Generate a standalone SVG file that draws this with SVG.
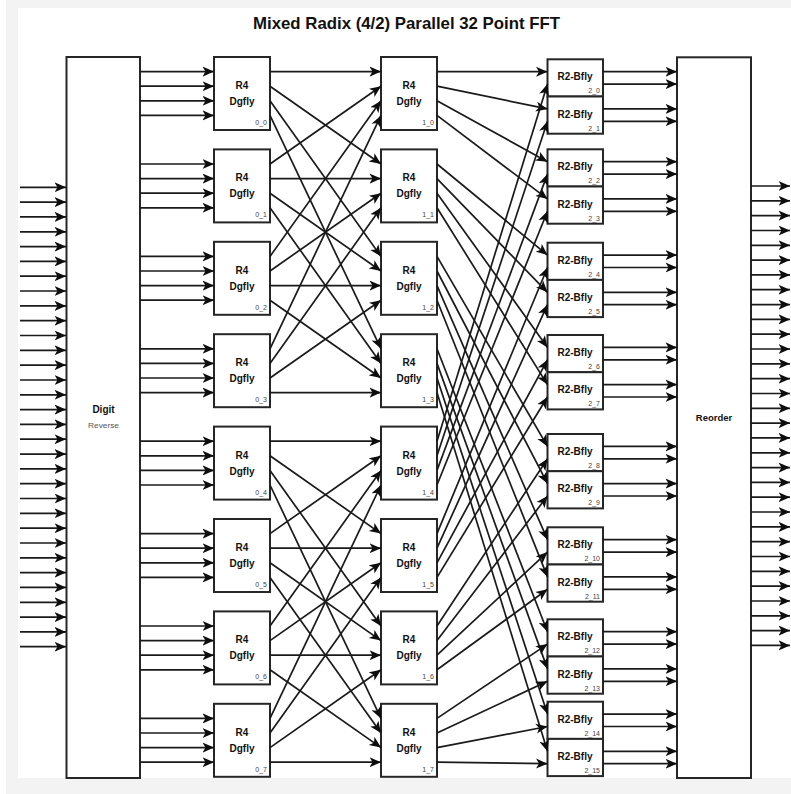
<svg xmlns="http://www.w3.org/2000/svg" width="791" height="794" viewBox="0 0 791 794">
<style>
.bg{fill:#ffffff}
.frame{fill:#f3f3f3}
.box{fill:#ffffff;stroke:#262626;stroke-width:2}
.c line{stroke:#1a1a1a;stroke-width:1.7;fill:none;marker-end:url(#arr)}
.t{font-family:"Liberation Sans",Arial,sans-serif;fill:#111;font-weight:bold;text-anchor:middle}
.r4{font-size:10px}
.r2{font-size:10px}
.lb{font-family:"Liberation Sans",Arial,sans-serif;fill:#444;font-size:7px;text-anchor:end}
.title{font-family:"Liberation Sans",Arial,sans-serif;font-weight:bold;font-size:16.5px;fill:#111;text-anchor:middle}
</style>
<defs>
<marker id="arr" markerUnits="userSpaceOnUse" markerWidth="12" markerHeight="11" viewBox="0 0 12 11" refX="11.5" refY="5.5" orient="auto">
<path d="M0,0.5 L11.5,5.5 L0,10.5 L3,5.5 z" fill="#0d0d0d"/>
</marker>
</defs>
<rect class="bg" x="0" y="0" width="791" height="794"/>
<rect class="frame" x="6" y="0" width="785" height="794"/>
<rect class="bg" x="18" y="8" width="773" height="770"/>
<text class="title" x="406.5" y="29" textLength="307" lengthAdjust="spacingAndGlyphs">Mixed Radix (4/2) Parallel 32 Point FFT</text>

<g id="digit_reverse">
<rect class="box" x="66.5" y="57" width="73.5" height="721"/>
<text class="t" x="103.5" y="413" font-size="10">Digit</text>
<text x="103.5" y="428" font-family="Liberation Sans,Arial,sans-serif" font-size="6.5" fill="#555" text-anchor="middle" textLength="31" lengthAdjust="spacingAndGlyphs">Reverse</text>
</g>

<g id="r4_0_0"><rect class="box" x="214" y="57" width="56" height="73"/><text class="t r4" x="242" y="89">R4</text><text class="t r4" x="242" y="105">Dgfly</text><text class="lb" x="267" y="125">0_0</text></g>
<g id="r4_0_1"><rect class="box" x="214" y="149.4" width="56" height="73"/><text class="t r4" x="242" y="181.4">R4</text><text class="t r4" x="242" y="197.4">Dgfly</text><text class="lb" x="267" y="217.4">0_1</text></g>
<g id="r4_0_2"><rect class="box" x="214" y="241.8" width="56" height="73"/><text class="t r4" x="242" y="273.8">R4</text><text class="t r4" x="242" y="289.8">Dgfly</text><text class="lb" x="267" y="309.8">0_2</text></g>
<g id="r4_0_3"><rect class="box" x="214" y="334.2" width="56" height="73"/><text class="t r4" x="242" y="366.2">R4</text><text class="t r4" x="242" y="382.2">Dgfly</text><text class="lb" x="267" y="402.2">0_3</text></g>
<g id="r4_0_4"><rect class="box" x="214" y="426.6" width="56" height="73"/><text class="t r4" x="242" y="458.6">R4</text><text class="t r4" x="242" y="474.6">Dgfly</text><text class="lb" x="267" y="494.6">0_4</text></g>
<g id="r4_0_5"><rect class="box" x="214" y="519" width="56" height="73"/><text class="t r4" x="242" y="551">R4</text><text class="t r4" x="242" y="567">Dgfly</text><text class="lb" x="267" y="587">0_5</text></g>
<g id="r4_0_6"><rect class="box" x="214" y="611.4" width="56" height="73"/><text class="t r4" x="242" y="643.4">R4</text><text class="t r4" x="242" y="659.4">Dgfly</text><text class="lb" x="267" y="679.4">0_6</text></g>
<g id="r4_0_7"><rect class="box" x="214" y="703.8" width="56" height="73"/><text class="t r4" x="242" y="735.8">R4</text><text class="t r4" x="242" y="751.8">Dgfly</text><text class="lb" x="267" y="771.8">0_7</text></g>

<g id="r4_1_0"><rect class="box" x="381" y="57" width="56" height="73"/><text class="t r4" x="409" y="89">R4</text><text class="t r4" x="409" y="105">Dgfly</text><text class="lb" x="434" y="125">1_0</text></g>
<g id="r4_1_1"><rect class="box" x="381" y="149.4" width="56" height="73"/><text class="t r4" x="409" y="181.4">R4</text><text class="t r4" x="409" y="197.4">Dgfly</text><text class="lb" x="434" y="217.4">1_1</text></g>
<g id="r4_1_2"><rect class="box" x="381" y="241.8" width="56" height="73"/><text class="t r4" x="409" y="273.8">R4</text><text class="t r4" x="409" y="289.8">Dgfly</text><text class="lb" x="434" y="309.8">1_2</text></g>
<g id="r4_1_3"><rect class="box" x="381" y="334.2" width="56" height="73"/><text class="t r4" x="409" y="366.2">R4</text><text class="t r4" x="409" y="382.2">Dgfly</text><text class="lb" x="434" y="402.2">1_3</text></g>
<g id="r4_1_4"><rect class="box" x="381" y="426.6" width="56" height="73"/><text class="t r4" x="409" y="458.6">R4</text><text class="t r4" x="409" y="474.6">Dgfly</text><text class="lb" x="434" y="494.6">1_4</text></g>
<g id="r4_1_5"><rect class="box" x="381" y="519" width="56" height="73"/><text class="t r4" x="409" y="551">R4</text><text class="t r4" x="409" y="567">Dgfly</text><text class="lb" x="434" y="587">1_5</text></g>
<g id="r4_1_6"><rect class="box" x="381" y="611.4" width="56" height="73"/><text class="t r4" x="409" y="643.4">R4</text><text class="t r4" x="409" y="659.4">Dgfly</text><text class="lb" x="434" y="679.4">1_6</text></g>
<g id="r4_1_7"><rect class="box" x="381" y="703.8" width="56" height="73"/><text class="t r4" x="409" y="735.8">R4</text><text class="t r4" x="409" y="751.8">Dgfly</text><text class="lb" x="434" y="771.8">1_7</text></g>

<g id="r2_2_0"><rect class="box" x="547.5" y="59.3" width="55.5" height="37.2"/><text class="t r2" x="575" y="80.3">R2-Bfly</text><text class="lb" x="600" y="93.3">2_0</text></g>
<g id="r2_2_1"><rect class="box" x="547.5" y="96.5" width="55.5" height="37.2"/><text class="t r2" x="575" y="117.5">R2-Bfly</text><text class="lb" x="600" y="130.5">2_1</text></g>
<g id="r2_2_2"><rect class="box" x="547.5" y="149.3" width="55.5" height="37.2"/><text class="t r2" x="575" y="170.3">R2-Bfly</text><text class="lb" x="600" y="183.3">2_2</text></g>
<g id="r2_2_3"><rect class="box" x="547.5" y="186.5" width="55.5" height="37.2"/><text class="t r2" x="575" y="207.5">R2-Bfly</text><text class="lb" x="600" y="220.5">2_3</text></g>
<g id="r2_2_4"><rect class="box" x="547.5" y="242.7" width="55.5" height="37.2"/><text class="t r2" x="575" y="263.7">R2-Bfly</text><text class="lb" x="600" y="276.7">2_4</text></g>
<g id="r2_2_5"><rect class="box" x="547.5" y="279.9" width="55.5" height="37.2"/><text class="t r2" x="575" y="300.9">R2-Bfly</text><text class="lb" x="600" y="313.9">2_5</text></g>
<g id="r2_2_6"><rect class="box" x="547.5" y="335" width="55.5" height="37.2"/><text class="t r2" x="575" y="356">R2-Bfly</text><text class="lb" x="600" y="369">2_6</text></g>
<g id="r2_2_7"><rect class="box" x="547.5" y="372.2" width="55.5" height="37.2"/><text class="t r2" x="575" y="393.2">R2-Bfly</text><text class="lb" x="600" y="406.2">2_7</text></g>
<g id="r2_2_8"><rect class="box" x="547.5" y="434" width="55.5" height="37.2"/><text class="t r2" x="575" y="455">R2-Bfly</text><text class="lb" x="600" y="468">2_8</text></g>
<g id="r2_2_9"><rect class="box" x="547.5" y="471.2" width="55.5" height="37.2"/><text class="t r2" x="575" y="492.2">R2-Bfly</text><text class="lb" x="600" y="505.2">2_9</text></g>
<g id="r2_2_10"><rect class="box" x="547.5" y="527.3" width="55.5" height="37.2"/><text class="t r2" x="575" y="548.3">R2-Bfly</text><text class="lb" x="600" y="561.3">2_10</text></g>
<g id="r2_2_11"><rect class="box" x="547.5" y="564.5" width="55.5" height="37.2"/><text class="t r2" x="575" y="585.5">R2-Bfly</text><text class="lb" x="600" y="598.5">2_11</text></g>
<g id="r2_2_12"><rect class="box" x="547.5" y="619.3" width="55.5" height="37.2"/><text class="t r2" x="575" y="640.3">R2-Bfly</text><text class="lb" x="600" y="653.3">2_12</text></g>
<g id="r2_2_13"><rect class="box" x="547.5" y="656.5" width="55.5" height="37.2"/><text class="t r2" x="575" y="677.5">R2-Bfly</text><text class="lb" x="600" y="690.5">2_13</text></g>
<g id="r2_2_14"><rect class="box" x="547.5" y="701.7" width="55.5" height="37.2"/><text class="t r2" x="575" y="722.7">R2-Bfly</text><text class="lb" x="600" y="735.7">2_14</text></g>
<g id="r2_2_15"><rect class="box" x="547.5" y="738.9" width="55.5" height="37.2"/><text class="t r2" x="575" y="759.9">R2-Bfly</text><text class="lb" x="600" y="772.9">2_15</text></g>

<g id="reorder">
<rect class="box" x="677" y="57.3" width="74" height="720.7"/>
<text x="714" y="421" font-family="Liberation Sans,Arial,sans-serif" font-size="9.5" font-weight="bold" fill="#111" text-anchor="middle">Reorder</text>
</g>

<g id="connectors" class="c">
<g id="inputs">
<line x1="20" y1="187.3" x2="66" y2="187.3"/><line x1="20" y1="202.1" x2="66" y2="202.1"/><line x1="20" y1="216.9" x2="66" y2="216.9"/><line x1="20" y1="231.8" x2="66" y2="231.8"/>
<line x1="20" y1="246.6" x2="66" y2="246.6"/><line x1="20" y1="261.4" x2="66" y2="261.4"/><line x1="20" y1="276.2" x2="66" y2="276.2"/><line x1="20" y1="291" x2="66" y2="291"/>
<line x1="20" y1="305.9" x2="66" y2="305.9"/><line x1="20" y1="320.7" x2="66" y2="320.7"/><line x1="20" y1="335.5" x2="66" y2="335.5"/><line x1="20" y1="350.3" x2="66" y2="350.3"/>
<line x1="20" y1="365.1" x2="66" y2="365.1"/><line x1="20" y1="380" x2="66" y2="380"/><line x1="20" y1="394.8" x2="66" y2="394.8"/><line x1="20" y1="409.6" x2="66" y2="409.6"/>
<line x1="20" y1="424.4" x2="66" y2="424.4"/><line x1="20" y1="439.2" x2="66" y2="439.2"/><line x1="20" y1="454.1" x2="66" y2="454.1"/><line x1="20" y1="468.9" x2="66" y2="468.9"/>
<line x1="20" y1="483.7" x2="66" y2="483.7"/><line x1="20" y1="498.5" x2="66" y2="498.5"/><line x1="20" y1="513.3" x2="66" y2="513.3"/><line x1="20" y1="528.2" x2="66" y2="528.2"/>
<line x1="20" y1="543" x2="66" y2="543"/><line x1="20" y1="557.8" x2="66" y2="557.8"/><line x1="20" y1="572.6" x2="66" y2="572.6"/><line x1="20" y1="587.4" x2="66" y2="587.4"/>
<line x1="20" y1="602.3" x2="66" y2="602.3"/><line x1="20" y1="617.1" x2="66" y2="617.1"/><line x1="20" y1="631.9" x2="66" y2="631.9"/><line x1="20" y1="646.7" x2="66" y2="646.7"/>
</g>
<g id="dr_to_s0">
<line x1="140" y1="71.6" x2="214" y2="71.6"/><line x1="140" y1="86.2" x2="214" y2="86.2"/><line x1="140" y1="100.8" x2="214" y2="100.8"/><line x1="140" y1="115.4" x2="214" y2="115.4"/>
<line x1="140" y1="164" x2="214" y2="164"/><line x1="140" y1="178.6" x2="214" y2="178.6"/><line x1="140" y1="193.2" x2="214" y2="193.2"/><line x1="140" y1="207.8" x2="214" y2="207.8"/>
<line x1="140" y1="256.4" x2="214" y2="256.4"/><line x1="140" y1="271" x2="214" y2="271"/><line x1="140" y1="285.6" x2="214" y2="285.6"/><line x1="140" y1="300.2" x2="214" y2="300.2"/>
<line x1="140" y1="348.8" x2="214" y2="348.8"/><line x1="140" y1="363.4" x2="214" y2="363.4"/><line x1="140" y1="378" x2="214" y2="378"/><line x1="140" y1="392.6" x2="214" y2="392.6"/>
<line x1="140" y1="441.2" x2="214" y2="441.2"/><line x1="140" y1="455.8" x2="214" y2="455.8"/><line x1="140" y1="470.4" x2="214" y2="470.4"/><line x1="140" y1="485" x2="214" y2="485"/>
<line x1="140" y1="533.6" x2="214" y2="533.6"/><line x1="140" y1="548.2" x2="214" y2="548.2"/><line x1="140" y1="562.8" x2="214" y2="562.8"/><line x1="140" y1="577.4" x2="214" y2="577.4"/>
<line x1="140" y1="626" x2="214" y2="626"/><line x1="140" y1="640.6" x2="214" y2="640.6"/><line x1="140" y1="655.2" x2="214" y2="655.2"/><line x1="140" y1="669.8" x2="214" y2="669.8"/>
<line x1="140" y1="718.4" x2="214" y2="718.4"/><line x1="140" y1="733" x2="214" y2="733"/><line x1="140" y1="747.6" x2="214" y2="747.6"/><line x1="140" y1="762.2" x2="214" y2="762.2"/>
</g>
<g id="s0_to_s1">
<line x1="270" y1="71.6" x2="381" y2="71.6"/><line x1="270" y1="86.2" x2="381" y2="164"/><line x1="270" y1="100.8" x2="381" y2="256.4"/><line x1="270" y1="115.4" x2="381" y2="348.8"/>
<line x1="270" y1="164" x2="381" y2="86.2"/><line x1="270" y1="178.6" x2="381" y2="178.6"/><line x1="270" y1="193.2" x2="381" y2="271"/><line x1="270" y1="207.8" x2="381" y2="363.4"/>
<line x1="270" y1="256.4" x2="381" y2="100.8"/><line x1="270" y1="271" x2="381" y2="193.2"/><line x1="270" y1="285.6" x2="381" y2="285.6"/><line x1="270" y1="300.2" x2="381" y2="378"/>
<line x1="270" y1="348.8" x2="381" y2="115.4"/><line x1="270" y1="363.4" x2="381" y2="207.8"/><line x1="270" y1="378" x2="381" y2="300.2"/><line x1="270" y1="392.6" x2="381" y2="392.6"/>
<line x1="270" y1="441.2" x2="381" y2="441.2"/><line x1="270" y1="455.8" x2="381" y2="533.6"/><line x1="270" y1="470.4" x2="381" y2="626"/><line x1="270" y1="485" x2="381" y2="718.4"/>
<line x1="270" y1="533.6" x2="381" y2="455.8"/><line x1="270" y1="548.2" x2="381" y2="548.2"/><line x1="270" y1="562.8" x2="381" y2="640.6"/><line x1="270" y1="577.4" x2="381" y2="733"/>
<line x1="270" y1="626" x2="381" y2="470.4"/><line x1="270" y1="640.6" x2="381" y2="562.8"/><line x1="270" y1="655.2" x2="381" y2="655.2"/><line x1="270" y1="669.8" x2="381" y2="747.6"/>
<line x1="270" y1="718.4" x2="381" y2="485"/><line x1="270" y1="733" x2="381" y2="577.4"/><line x1="270" y1="747.6" x2="381" y2="669.8"/><line x1="270" y1="762.2" x2="381" y2="762.2"/>
</g>
<g id="s1_to_s2">
<line x1="437" y1="71.6" x2="547.5" y2="71.7"/><line x1="437" y1="86.2" x2="547.5" y2="108.9"/><line x1="437" y1="100.8" x2="547.5" y2="161.7"/><line x1="437" y1="115.4" x2="547.5" y2="198.9"/>
<line x1="437" y1="164" x2="547.5" y2="255.1"/><line x1="437" y1="178.6" x2="547.5" y2="292.3"/><line x1="437" y1="193.2" x2="547.5" y2="347.4"/><line x1="437" y1="207.8" x2="547.5" y2="384.6"/>
<line x1="437" y1="256.4" x2="547.5" y2="446.4"/><line x1="437" y1="271" x2="547.5" y2="483.6"/><line x1="437" y1="285.6" x2="547.5" y2="539.7"/><line x1="437" y1="300.2" x2="547.5" y2="576.9"/>
<line x1="437" y1="348.8" x2="547.5" y2="631.7"/><line x1="437" y1="363.4" x2="547.5" y2="668.9"/><line x1="437" y1="378" x2="547.5" y2="714.1"/><line x1="437" y1="392.6" x2="547.5" y2="751.3"/>
<line x1="437" y1="441.2" x2="547.5" y2="84.1"/><line x1="437" y1="455.8" x2="547.5" y2="121.3"/><line x1="437" y1="470.4" x2="547.5" y2="174.1"/><line x1="437" y1="485" x2="547.5" y2="211.3"/>
<line x1="437" y1="533.6" x2="547.5" y2="267.5"/><line x1="437" y1="548.2" x2="547.5" y2="304.7"/><line x1="437" y1="562.8" x2="547.5" y2="359.8"/><line x1="437" y1="577.4" x2="547.5" y2="397"/>
<line x1="437" y1="626" x2="547.5" y2="458.8"/><line x1="437" y1="640.6" x2="547.5" y2="496"/><line x1="437" y1="655.2" x2="547.5" y2="552.1"/><line x1="437" y1="669.8" x2="547.5" y2="589.3"/>
<line x1="437" y1="718.4" x2="547.5" y2="644.1"/><line x1="437" y1="733" x2="547.5" y2="681.3"/><line x1="437" y1="747.6" x2="547.5" y2="726.5"/><line x1="437" y1="762.2" x2="547.5" y2="763.7"/>
</g>
<g id="s2_to_reorder">
<line x1="603" y1="71.7" x2="677" y2="71.7"/><line x1="603" y1="84.1" x2="677" y2="84.1"/><line x1="603" y1="108.9" x2="677" y2="108.9"/><line x1="603" y1="121.3" x2="677" y2="121.3"/>
<line x1="603" y1="161.7" x2="677" y2="161.7"/><line x1="603" y1="174.1" x2="677" y2="174.1"/><line x1="603" y1="198.9" x2="677" y2="198.9"/><line x1="603" y1="211.3" x2="677" y2="211.3"/>
<line x1="603" y1="255.1" x2="677" y2="255.1"/><line x1="603" y1="267.5" x2="677" y2="267.5"/><line x1="603" y1="292.3" x2="677" y2="292.3"/><line x1="603" y1="304.7" x2="677" y2="304.7"/>
<line x1="603" y1="347.4" x2="677" y2="347.4"/><line x1="603" y1="359.8" x2="677" y2="359.8"/><line x1="603" y1="384.6" x2="677" y2="384.6"/><line x1="603" y1="397" x2="677" y2="397"/>
<line x1="603" y1="446.4" x2="677" y2="446.4"/><line x1="603" y1="458.8" x2="677" y2="458.8"/><line x1="603" y1="483.6" x2="677" y2="483.6"/><line x1="603" y1="496" x2="677" y2="496"/>
<line x1="603" y1="539.7" x2="677" y2="539.7"/><line x1="603" y1="552.1" x2="677" y2="552.1"/><line x1="603" y1="576.9" x2="677" y2="576.9"/><line x1="603" y1="589.3" x2="677" y2="589.3"/>
<line x1="603" y1="631.7" x2="677" y2="631.7"/><line x1="603" y1="644.1" x2="677" y2="644.1"/><line x1="603" y1="668.9" x2="677" y2="668.9"/><line x1="603" y1="681.3" x2="677" y2="681.3"/>
<line x1="603" y1="714.1" x2="677" y2="714.1"/><line x1="603" y1="726.5" x2="677" y2="726.5"/><line x1="603" y1="751.3" x2="677" y2="751.3"/><line x1="603" y1="763.7" x2="677" y2="763.7"/>
</g>
<g id="outputs">
<line x1="751" y1="186" x2="790" y2="186"/><line x1="751" y1="200.8" x2="790" y2="200.8"/><line x1="751" y1="215.6" x2="790" y2="215.6"/><line x1="751" y1="230.5" x2="790" y2="230.5"/>
<line x1="751" y1="245.3" x2="790" y2="245.3"/><line x1="751" y1="260.1" x2="790" y2="260.1"/><line x1="751" y1="274.9" x2="790" y2="274.9"/><line x1="751" y1="289.7" x2="790" y2="289.7"/>
<line x1="751" y1="304.6" x2="790" y2="304.6"/><line x1="751" y1="319.4" x2="790" y2="319.4"/><line x1="751" y1="334.2" x2="790" y2="334.2"/><line x1="751" y1="349" x2="790" y2="349"/>
<line x1="751" y1="363.8" x2="790" y2="363.8"/><line x1="751" y1="378.7" x2="790" y2="378.7"/><line x1="751" y1="393.5" x2="790" y2="393.5"/><line x1="751" y1="408.3" x2="790" y2="408.3"/>
<line x1="751" y1="423.1" x2="790" y2="423.1"/><line x1="751" y1="437.9" x2="790" y2="437.9"/><line x1="751" y1="452.8" x2="790" y2="452.8"/><line x1="751" y1="467.6" x2="790" y2="467.6"/>
<line x1="751" y1="482.4" x2="790" y2="482.4"/><line x1="751" y1="497.2" x2="790" y2="497.2"/><line x1="751" y1="512" x2="790" y2="512"/><line x1="751" y1="526.9" x2="790" y2="526.9"/>
<line x1="751" y1="541.7" x2="790" y2="541.7"/><line x1="751" y1="556.5" x2="790" y2="556.5"/><line x1="751" y1="571.3" x2="790" y2="571.3"/><line x1="751" y1="586.1" x2="790" y2="586.1"/>
<line x1="751" y1="601" x2="790" y2="601"/><line x1="751" y1="615.8" x2="790" y2="615.8"/><line x1="751" y1="630.6" x2="790" y2="630.6"/><line x1="751" y1="645.4" x2="790" y2="645.4"/>
</g>
</g>
</svg>
